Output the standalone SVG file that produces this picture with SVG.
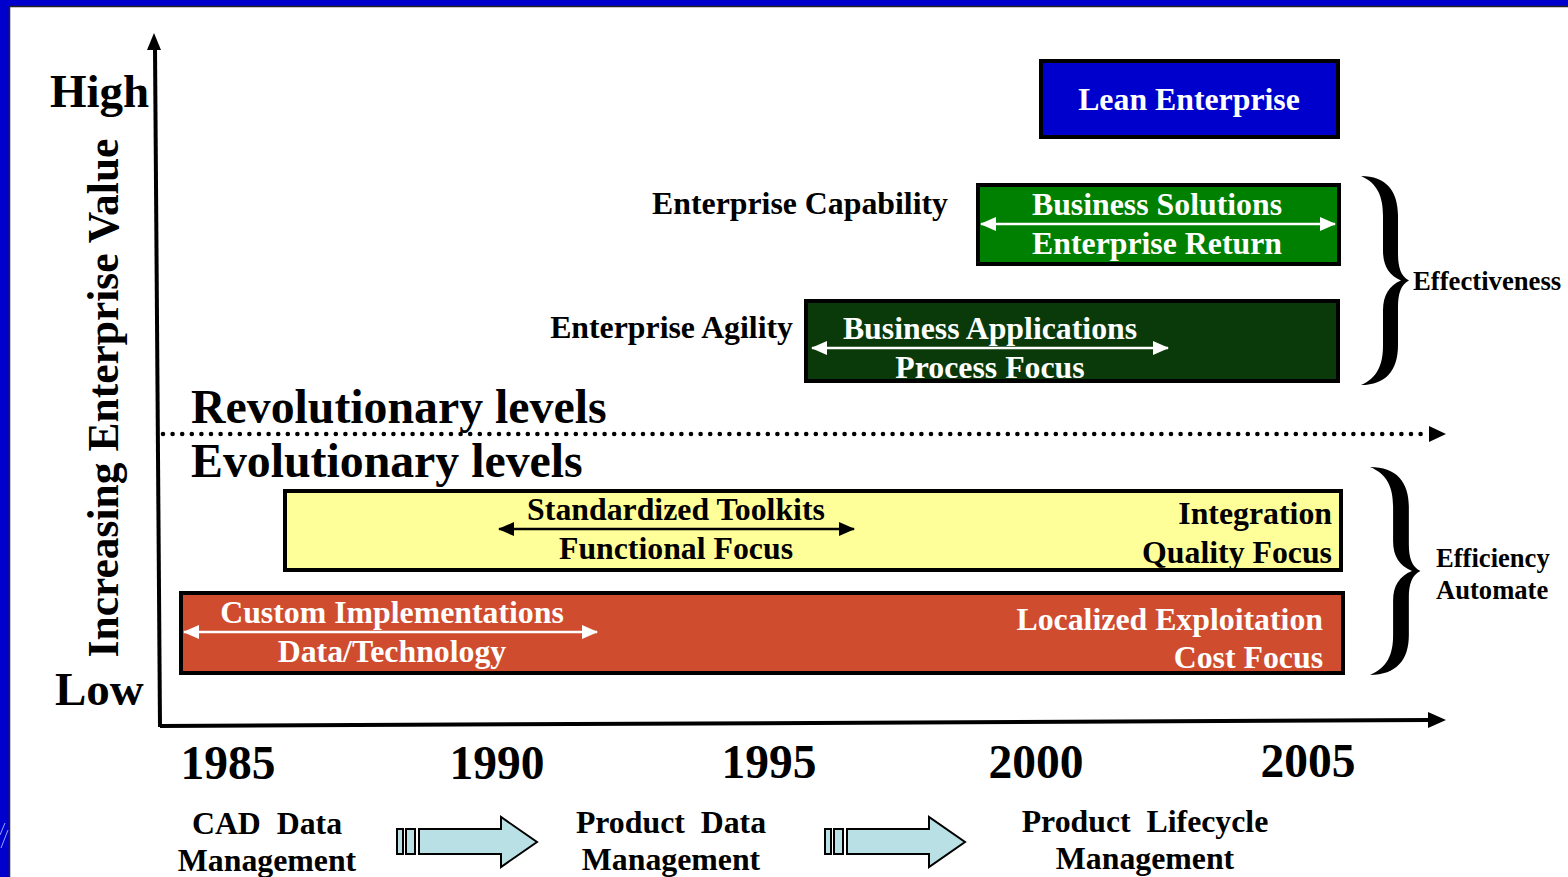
<svg xmlns="http://www.w3.org/2000/svg" width="1568" height="877" viewBox="0 0 1568 877">
<style>
text{font-family:"Liberation Serif","Times New Roman",serif;font-weight:bold;}
.w{fill:#fff;}
.k{fill:#000;}
.m{text-anchor:middle;}
.e{text-anchor:end;}
.box{stroke:#000;stroke-width:4;}
.arw{stroke-width:2.5;fill:none;}
.flow{fill:#B9E0E4;stroke:#000;stroke-width:2;}
</style>
<defs>
<marker id="wh" markerUnits="userSpaceOnUse" markerWidth="18" markerHeight="16" refX="15" refY="7" orient="auto-start-reverse" viewBox="0 0 18 16">
<path d="M0,0 L16,7 L0,14 Z" fill="#fff"/>
</marker>
<marker id="bk" markerUnits="userSpaceOnUse" markerWidth="18" markerHeight="16" refX="15" refY="7" orient="auto-start-reverse" viewBox="0 0 18 16">
<path d="M0,0 L16,7 L0,14 Z" fill="#000"/>
</marker>
<path id="brace" d="M0,0 C25,0 37,15 37,40 L37,78 C37,92 40,101 48,105 C40,109 37,118 37,132 L37,170 C37,195 25,210 0,210 C16,203 22,190 22,170 L22,135 C22,120 28,110 40,105 C28,100 22,90 22,75 L22,40 C22,20 16,7 0,0 Z" fill="#000"/>
</defs>
<rect width="1568" height="877" fill="#fff"/>
<g id="frame">
<rect x="0" y="0" width="1568" height="6" fill="#0000CC"/>
<line x1="0" y1="6.5" x2="1568" y2="6.5" stroke="#222" stroke-width="1.5"/>
<rect x="0" y="0" width="9" height="877" fill="#0000CC"/>
<line x1="9.5" y1="6" x2="9.5" y2="877" stroke="#222" stroke-width="1.5"/>
<line x1="0" y1="835" x2="5" y2="823" stroke="#9aa8ff" stroke-width="1"/>
<line x1="1" y1="848" x2="8" y2="830" stroke="#9aa8ff" stroke-width="1"/>
</g>
<g id="connectors">
<line x1="160" y1="727" x2="155" y2="48" stroke="#000" stroke-width="4"/>
<polygon points="154,33 147,50 161,50" fill="#000"/>
<line x1="160" y1="726" x2="1430" y2="720" stroke="#000" stroke-width="4"/>
<polygon points="1446,720 1428,712 1428,728" fill="#000"/>
<line x1="163" y1="434" x2="1428" y2="434" stroke="#000" stroke-width="4.6" stroke-linecap="round" stroke-dasharray="0 9.6"/>
<polygon points="1446,434 1429,426 1429,442" fill="#000"/>
</g>
<g id="axis-labels">
<text x="50" y="107" font-size="47" class="k">High</text>
<text x="55" y="705" font-size="47" class="k">Low</text>
<text transform="translate(118,398) rotate(-90)" font-size="43.5" class="k m">Increasing Enterprise Value</text>
<text x="191" y="423" font-size="47.8" class="k">Revolutionary levels</text>
<text x="191" y="477" font-size="47.8" class="k">Evolutionary levels</text>
</g>
<g id="years" font-size="47.5">
<text x="228" y="779" class="k m">1985</text>
<text x="497" y="779" class="k m">1990</text>
<text x="769" y="778" class="k m">1995</text>
<text x="1036" y="778" class="k m">2000</text>
<text x="1308" y="777" class="k m">2005</text>
</g>
<g id="lean-enterprise">
<rect x="1041" y="61" width="297" height="76" fill="#0000CC" class="box"/>
<text x="1189" y="110" font-size="31.8" class="w m">Lean Enterprise</text>
</g>
<g id="enterprise-capability">
<text x="948" y="214" font-size="31.8" class="k e">Enterprise Capability</text>
<rect x="978" y="185" width="361" height="79" fill="#008000" class="box"/>
<line x1="981" y1="224" x2="1335" y2="224" stroke="#fff" class="arw" marker-start="url(#wh)" marker-end="url(#wh)"/>
<text x="1157" y="215" font-size="31.8" class="w m">Business Solutions</text>
<text x="1157" y="254" font-size="31.8" class="w m">Enterprise Return</text>
</g>
<g id="enterprise-agility">
<text x="793" y="338" font-size="31.8" class="k e">Enterprise Agility</text>
<rect x="806" y="301" width="532" height="80" fill="#0A3A0A" class="box"/>
<line x1="812" y1="348" x2="1168" y2="348" stroke="#fff" class="arw" marker-start="url(#wh)" marker-end="url(#wh)"/>
<text x="990" y="339" font-size="31.8" class="w m">Business Applications</text>
<text x="990" y="378" font-size="31.8" class="w m">Process Focus</text>
</g>
<g id="standardized-toolkits">
<rect x="285" y="491" width="1056" height="79" fill="#FFFF99" class="box"/>
<line x1="499" y1="529" x2="854" y2="529" stroke="#000" class="arw" marker-start="url(#bk)" marker-end="url(#bk)"/>
<text x="676" y="520" font-size="31.8" class="k m">Standardized Toolkits</text>
<text x="676" y="559" font-size="31.8" class="k m">Functional Focus</text>
<text x="1332" y="524" font-size="31.8" class="k e">Integration</text>
<text x="1332" y="563" font-size="31.8" class="k e">Quality Focus</text>
</g>
<g id="custom-implementations">
<rect x="181" y="593" width="1162" height="80" fill="#D04C2E" class="box"/>
<line x1="184" y1="632" x2="597" y2="632" stroke="#fff" class="arw" marker-start="url(#wh)" marker-end="url(#wh)"/>
<text x="392" y="623" font-size="31.8" class="w m">Custom Implementations</text>
<text x="392" y="662" font-size="31.8" class="w m">Data/Technology</text>
<text x="1323" y="630" font-size="31.8" class="w e">Localized Exploitation</text>
<text x="1323" y="668" font-size="31.8" class="w e">Cost Focus</text>
</g>
<g id="effectiveness">
<use href="#brace" transform="translate(1361,176) scale(1,0.995)"/>
<text x="1413" y="290" font-size="26.7" class="k">Effectiveness</text>
</g>
<g id="efficiency">
<use href="#brace" transform="translate(1370,467) scale(1.05,0.99)"/>
<text x="1436" y="567" font-size="26.6" class="k">Efficiency</text>
<text x="1436" y="599" font-size="26.6" class="k">Automate</text>
</g>
<g id="cad-data-management">
<text x="267" y="834" font-size="31.8" class="k m" xml:space="preserve">CAD  Data</text>
<text x="267" y="871" font-size="31.8" class="k m">Management</text>
</g>
<g id="flow-arrow-1">
<rect x="397" y="829" width="6" height="25" class="flow"/>
<rect x="406" y="829" width="9" height="25" class="flow"/>
<polygon points="419,829 501,829 501,817 537,842 501,867 501,854 419,854" class="flow"/>
</g>
<g id="product-data-management">
<text x="671" y="833" font-size="31.8" class="k m" xml:space="preserve">Product  Data</text>
<text x="671" y="870" font-size="31.8" class="k m">Management</text>
</g>
<g id="flow-arrow-2">
<rect x="825" y="829" width="6" height="25" class="flow"/>
<rect x="834" y="829" width="9" height="25" class="flow"/>
<polygon points="847,829 929,829 929,817 965,842 929,867 929,854 847,854" class="flow"/>
</g>
<g id="product-lifecycle-management">
<text x="1145" y="832" font-size="31.8" class="k m" xml:space="preserve">Product  Lifecycle</text>
<text x="1145" y="869" font-size="31.8" class="k m">Management</text>
</g>
</svg>
